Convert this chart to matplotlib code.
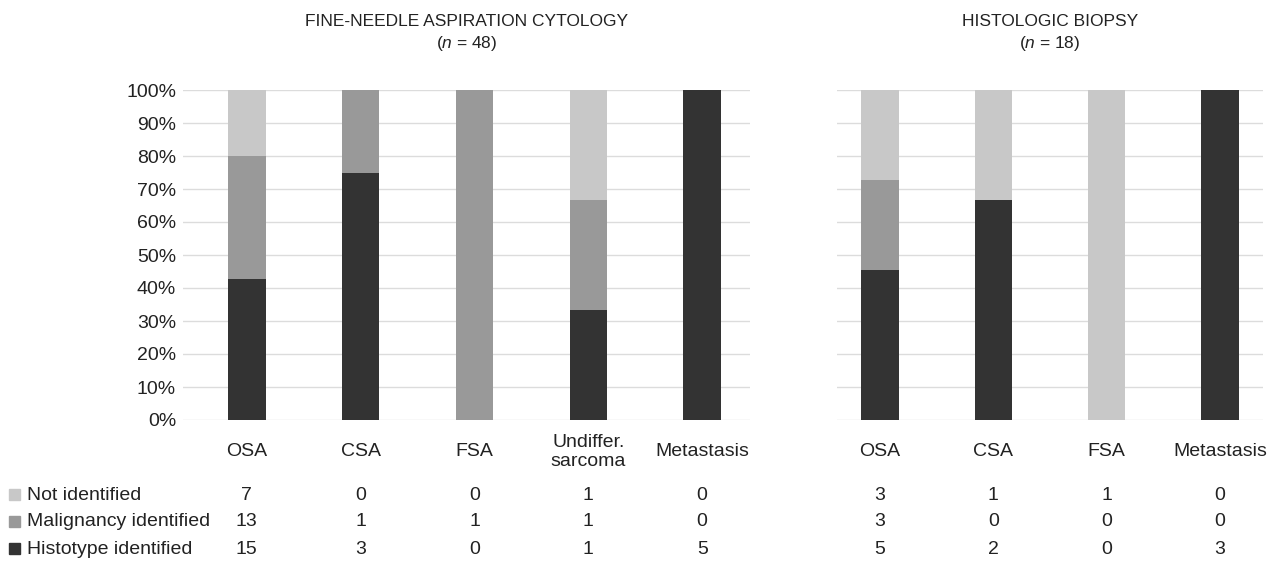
import matplotlib.pyplot as plt
from matplotlib.patches import Rectangle
from matplotlib.transforms import blended_transform_factory
import numpy as np

plt.rcParams['font.family'] = ['Liberation Sans', 'DejaVu Sans']
plt.rcParams['mathtext.fontset'] = 'custom'
plt.rcParams['mathtext.it'] = 'Liberation Sans:italic'

# counts per category
fna_cats = ["OSA", "CSA", "FSA", "Undiffer.\nsarcoma", "Metastasis"]
fna_not = [7, 0, 0, 1, 0]
fna_malig = [13, 1, 1, 1, 0]
fna_histo = [15, 3, 0, 1, 5]

bx_cats = ["OSA", "CSA", "FSA", "Metastasis"]
bx_not = [3, 1, 1, 0]
bx_malig = [3, 0, 0, 0]
bx_histo = [5, 2, 0, 3]

row_labels = ["Not identified", "Malignancy identified", "Histotype identified"]
colors = ["#c8c8c8", "#999999", "#333333"]
text_col = "#222222"
W, H = 1277, 572
FS = 14
ROWS = [495, 522, 549]

fig = plt.figure(figsize=(12.77, 5.72), dpi=100)


def px_axes(x0, x1, y0, y1):
    return fig.add_axes([x0 / W, 1 - y1 / H, (x1 - x0) / W, (y1 - y0) / H])


def panel(ax, cats, nots, maligs, histos, title, n, xlim, show_y):
    nots = np.array(nots, float)
    maligs = np.array(maligs, float)
    histos = np.array(histos, float)
    tot = nots + maligs + histos
    x = np.arange(len(cats))
    h = histos / tot
    m = maligs / tot
    u = nots / tot
    ax.bar(x, h, width=0.33, color=colors[2], zorder=3)
    ax.bar(x, m, bottom=h, width=0.33, color=colors[1], zorder=3)
    ax.bar(x, u, bottom=h + m, width=0.33, color=colors[0], zorder=3)
    ax.set_xlim(*xlim)
    ax.set_ylim(0, 1)
    ax.set_yticks(np.arange(0, 1.01, 0.1))
    ax.yaxis.grid(True, color="#dcdcdc", linewidth=1, zorder=0)
    for s in ax.spines.values():
        s.set_visible(False)
    ax.tick_params(length=0)
    if show_y:
        ax.set_yticklabels([f"{int(round(v * 100))}%" for v in np.arange(0, 1.01, 0.1)],
                           fontsize=FS, color=text_col)
        ax.tick_params(axis="y", pad=5)
    else:
        ax.set_yticklabels([])
    ax.set_xticks(x)
    ax.set_xticklabels(cats, fontsize=FS, color=text_col, linespacing=1.2, va="center")
    ax.tick_params(axis="x", pad=23)
    ax.set_title(title + "\n($\\it{n}$ = %d)" % n, fontsize=12.5, color=text_col,
                 pad=30, linespacing=1.4)
    tr = blended_transform_factory(ax.transData, fig.transFigure)
    for vals, yy in zip([nots, maligs, histos], ROWS):
        for xi, v in zip(x, vals):
            fig.text(xi, 1 - yy / H, "%d" % v, transform=tr, ha="center", va="center",
                     fontsize=FS, color=text_col)


ax1 = px_axes(183, 750, 90, 420)
panel(ax1, fna_cats, fna_not, fna_malig, fna_histo,
      "FINE-NEEDLE ASPIRATION CYTOLOGY", 48, (-0.56, 4.42), True)
ax2 = px_axes(837, 1263, 90, 420)
panel(ax2, bx_cats, bx_not, bx_malig, bx_histo,
      "HISTOLOGIC BIOPSY", 18, (-0.38, 3.38), False)

for lab, c, yy in zip(row_labels, colors, ROWS):
    fig.patches.append(Rectangle((9 / W, 1 - (yy + 5) / H), 11 / W, 11 / H,
                                 transform=fig.transFigure, color=c))
    fig.text(27 / W, 1 - yy / H, lab, ha="left", va="center", fontsize=FS, color=text_col)

fig.savefig("out.png", dpi=100)
